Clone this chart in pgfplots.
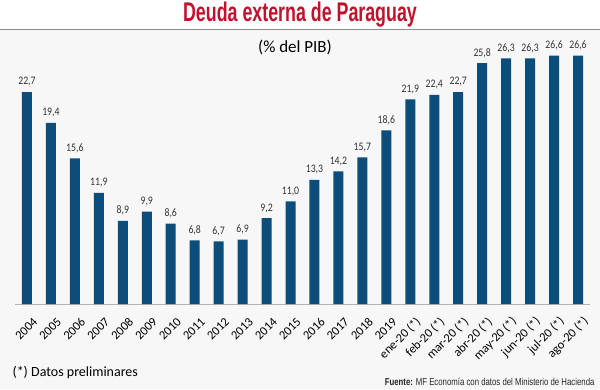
\documentclass[border=0pt]{standalone}
\usepackage{pgfplots}
\pgfplotsset{compat=1.18}
\usepackage{fontspec}
\setmainfont{Carlito}
\newfontfamily\arial{Liberation Sans}
\definecolor{barblue}{HTML}{0B4E7C}
\definecolor{titlered}{HTML}{C0122C}
\definecolor{bg}{HTML}{F7F7F7}
\pgfplotstableread{
x val
0 22.7
1 19.4
2 15.6
3 11.9
4 8.9
5 9.9
6 8.6
7 6.8
8 6.7
9 6.9
10 9.2
11 11.0
12 13.3
13 14.2
14 15.7
15 18.6
16 21.9
17 22.4
18 22.7
19 25.8
20 26.3
21 26.3
22 26.6
23 26.6
}\datatable
\begin{document}
\begin{tikzpicture}
\useasboundingbox (0,0) rectangle (600pt,389pt);
\fill[white] (0,0) rectangle (600pt,389pt);
\fill[bg] (0,0) rectangle (600pt,359.5pt);
\draw[black!45, line width=1.5pt] (0,359.5pt) -- (600pt,359.5pt);
\node[font=\arial\bfseries\fontsize{27}{30}\selectfont, text=titlered] at (300pt,374pt) {\scalebox{0.66}[1]{Deuda externa de Paraguay}};
\node[font=\fontsize{17}{20}\selectfont] at (295pt,342pt) {(\% del PIB)};
\begin{axis}[at={(15pt,85pt)}, anchor=south west, scale only axis,
  width=575pt, height=261.5pt,
  xmin=-0.5, xmax=23.5, ymin=0, ymax=28,
  axis x line=bottom, axis y line=none,
  x axis line style={-, black!30, line width=0.8pt},
  xtick=data, xtick style={draw=none},
  xticklabels={2004,2005,2006,2007,2008,2009,2010,2011,2012,2013,2014,2015,2016,2017,2018,2019,ene-20 (*),feb-20 (*),mar-20 (*),abr-20 (*),may-20 (*),jun-20 (*),jul-20 (*),ago-20 (*)},
  xticklabel style={rotate=45, anchor=east, inner sep=0pt, font=\fontsize{12.5}{15}\selectfont, xshift=-2pt, yshift=-14pt},
  ybar, bar width=10pt,
  nodes near coords={\scalebox{0.85}[1]{\pgfmathprintnumber\pgfplotspointmeta}},
  /pgf/number format/.cd, fixed, fixed zerofill, precision=1, use comma, assume math mode=true,
  /pgfplots/.cd,
  every node near coord/.append style={font=\fontsize{11.5}{14}\selectfont, text=black!80, yshift=2pt},
]
\addplot[fill=barblue, draw=none] table[x=x, y=val] {\datatable};
\end{axis}
\node[anchor=west, font=\fontsize{14}{16}\selectfont] at (9pt,16pt) {(*) Datos preliminares};
\node[anchor=east, font=\arial\fontsize{10}{12}\selectfont, text=black!85] at (598pt,7pt) {\scalebox{0.78}[1]{\textbf{Fuente:} MF Economía con datos del Ministerio de Hacienda}};
\end{tikzpicture}
\end{document}
